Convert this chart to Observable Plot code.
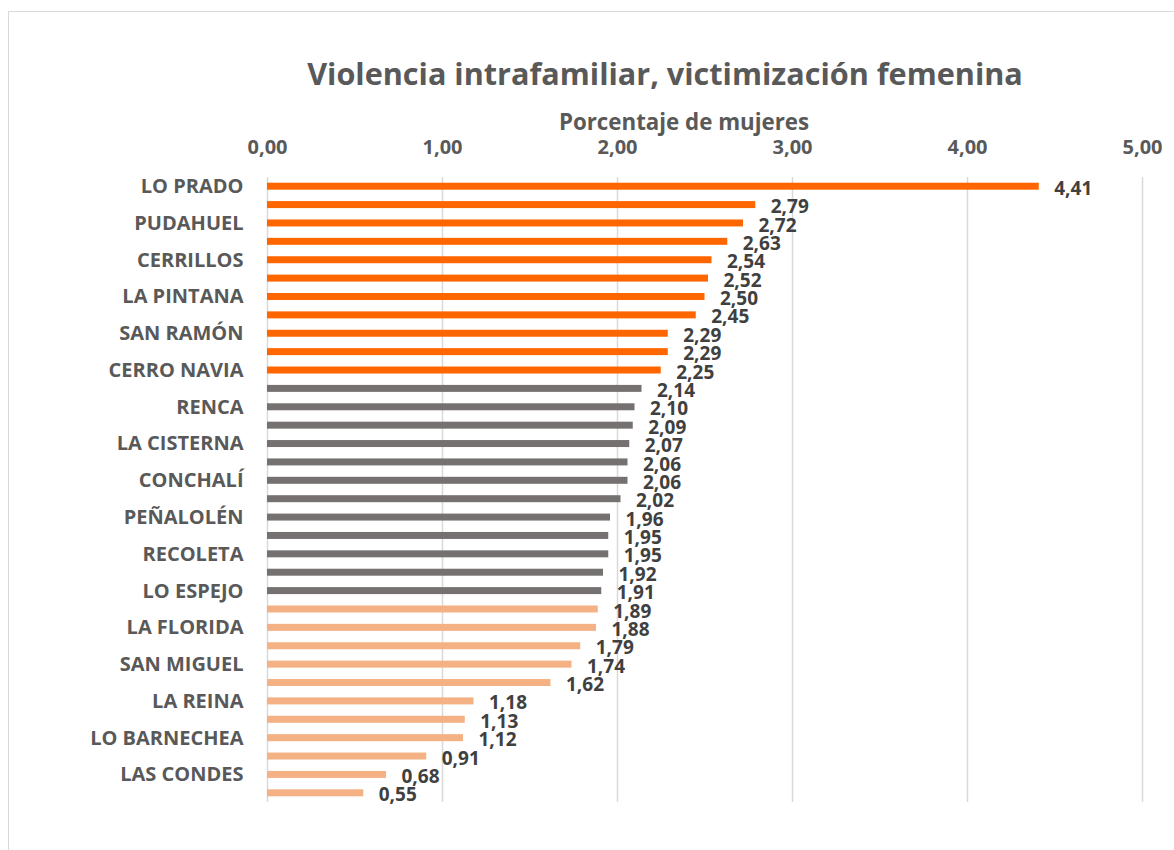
<!DOCTYPE html>
<html><head><meta charset="utf-8">
<script src="https://cdn.jsdelivr.net/npm/d3@7"></script>
<script src="https://cdn.jsdelivr.net/npm/@observablehq/plot@0.6"></script>
<style>
html,body{margin:0;padding:0;background:#fff;}
#wrap{position:relative;width:1174px;height:850px;overflow:hidden;font-family:"Open Sans",sans-serif;}
#frame{position:absolute;left:8px;top:11px;width:1300px;height:1000px;border:1.5px solid #d9d9d9;box-sizing:border-box;}
#title{position:absolute;left:165px;width:1000px;top:58px;text-align:center;font-size:30.6px;line-height:30px;font-weight:700;color:#595959;white-space:nowrap;}
#xlabel{position:absolute;left:184px;width:1000px;top:111px;text-align:center;font-size:22.3px;line-height:22px;font-weight:700;color:#595959;white-space:nowrap;}
#chart{position:absolute;left:0;top:0;}
</style>
</head><body>
<div id="wrap">
  <div id="frame"></div>
  <div id="chart"></div>
  <div id="title">Violencia intrafamiliar, victimización femenina</div>
  <div id="xlabel">Porcentaje de mujeres</div>
</div>
<script>
const comunas = ["LO PRADO","","PUDAHUEL","","CERRILLOS","","LA PINTANA","","SAN RAMÓN","","CERRO NAVIA","",
  "RENCA","","LA CISTERNA","","CONCHALÍ","","PEÑALOLÉN","","RECOLETA","","LO ESPEJO","",
  "LA FLORIDA","","SAN MIGUEL","","LA REINA","","LO BARNECHEA","","LAS CONDES",""];
const porcentajes = [4.41,2.79,2.72,2.63,2.54,2.52,2.50,2.45,2.29,2.29,2.25,
  2.14,2.10,2.09,2.07,2.06,2.06,2.02,1.96,1.95,1.95,1.92,1.91,
  1.89,1.88,1.79,1.74,1.62,1.18,1.13,1.12,0.91,0.68,0.55];
const grupos = ["alto","alto","alto","alto","alto","alto","alto","alto","alto","alto","alto",
  "medio","medio","medio","medio","medio","medio","medio","medio","medio","medio","medio","medio",
  "bajo","bajo","bajo","bajo","bajo","bajo","bajo","bajo","bajo","bajo","bajo"];
const grupoDominio = ["alto","medio","bajo"];
const grupoColores = ["#FF6600","#767171","#F4B183"];
const xTicks = [0,1,2,3,4,5];

const fmt = v => v.toFixed(2).replace(".", ",");
const data = porcentajes.map((v, i) => ({i, v, g: grupos[i]}));

const chart = Plot.plot({
  width: 1174,
  height: 850,
  marginLeft: 267,
  marginRight: 32,
  marginTop: 177,
  marginBottom: 48,
  style: {fontFamily: "Open Sans, sans-serif", fontSize: "20px", fontWeight: "bold", color: "#595959", background: "transparent"},
  x: {domain: [0, 5]},
  y: {domain: d3.range(porcentajes.length), paddingInner: 0.62, paddingOuter: 0.31, round: false},
  color: {domain: grupoDominio, range: grupoColores},
  marks: [
    Plot.gridX(xTicks, {stroke: "#d9d9d9", strokeOpacity: 1, strokeWidth: 1.5}),
    Plot.axisX(xTicks, {anchor: "top", tickSize: 0, tickPadding: 24, tickFormat: fmt, label: null, fontSize: 20}),
    Plot.axisY({anchor: "left", tickSize: 0, tickPadding: 24, tickFormat: i => comunas[i], label: null, fontSize: 20}),
    Plot.barX(data, {x: "v", y: "i", fill: "g"}),
    Plot.text(data, {x: "v", y: "i", text: d => fmt(d.v), textAnchor: "start", dx: 15, dy: 2, fill: "#404040", fontSize: 19, fontWeight: "bold"})
  ]
});
document.getElementById("chart").appendChild(chart);
</script>
</body></html>
